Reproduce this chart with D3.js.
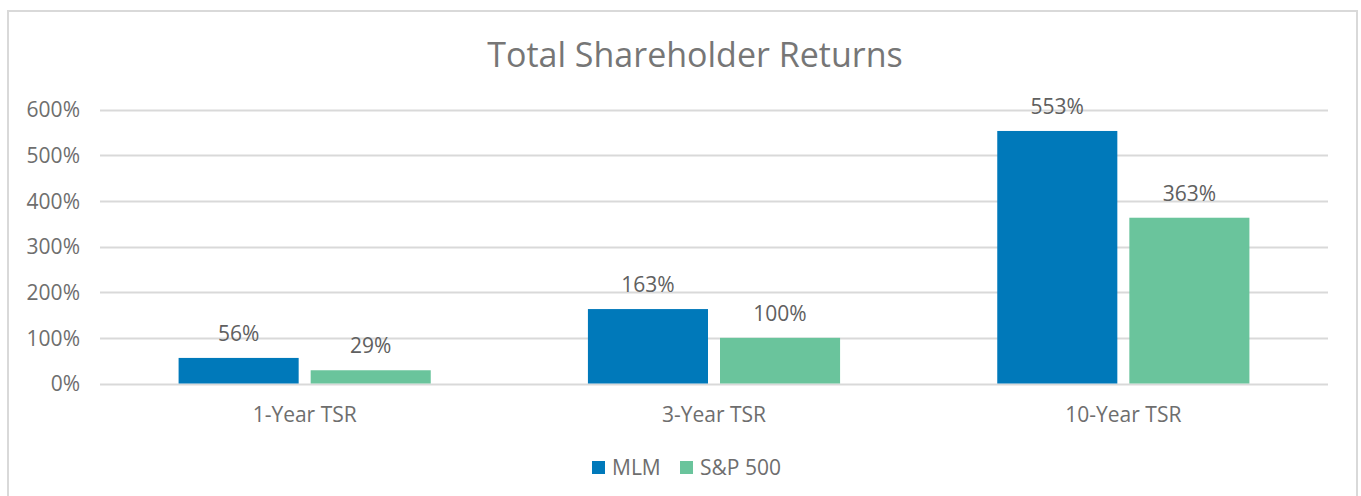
<!DOCTYPE html>
<html><head><meta charset="utf-8">
<script src="https://cdn.jsdelivr.net/npm/d3@7"></script>
<style>
html,body{margin:0;padding:0;background:#fff;}
svg{display:block;font-family:"Open Sans",sans-serif;}
</style></head>
<body><svg id="c" width="1361" height="496"></svg>
<script>
const categories = ["1-Year TSR", "3-Year TSR", "10-Year TSR"];
const seriesNames = ["MLM", "S&P 500"];
const mlmValues = [56, 163, 553];
const spValues = [29, 100, 363];
const yTicks = [0, 100, 200, 300, 400, 500, 600];
const colors = ["#0079BA", "#6AC49C"];
const title = "Total Shareholder Returns";

const svg = d3.select("#c");
const W = 1361, H = 496;
const m = {left: 100, right: 33};
const FS = 21;

// outer border
svg.append("rect").attr("x", 8).attr("y", 11).attr("width", 1349).attr("height", 500)
  .attr("fill", "none").attr("stroke", "#d9d9d9").attr("stroke-width", 2);

svg.append("text").attr("x", 695).attr("y", 67).attr("text-anchor", "middle")
  .attr("fill", "#767676").attr("font-size", 34).text(title);

const x0 = d3.scaleBand().domain(categories).range([m.left, W - m.right]).paddingInner(0).paddingOuter(0);
const x1 = d3.scaleBand().domain(seriesNames).range([0, x0.bandwidth()]).paddingInner(0.0909).paddingOuter(0.595);
const y = d3.scaleLinear().domain([0, 600]).range([383.5, 109.5]);

const grid = svg.append("g");
yTicks.forEach(t => {
  grid.append("line").attr("x1", m.left).attr("x2", W - m.right)
    .attr("y1", Math.round(y(t)) + 0.5).attr("y2", Math.round(y(t)) + 0.5)
    .attr("stroke", "#d9d9d9").attr("stroke-width", 2);
});

const yAxis = d3.axisLeft(y).tickValues(yTicks).tickFormat(d => d + "%").tickSize(0).tickPadding(0);
const ya = svg.append("g").attr("transform", "translate(80,0)").call(yAxis);
ya.select(".domain").remove();
ya.selectAll("text").attr("font-family", "Open Sans, sans-serif").attr("font-size", FS).attr("fill", "#6e6e6e").attr("dy", "0.35em");

const data = categories.map((c, i) => ({cat: c, vals: [mlmValues[i], spValues[i]]}));
const groups = svg.selectAll("g.cat").data(data).join("g").attr("class", "cat")
  .attr("transform", d => `translate(${x0(d.cat)},0)`);
groups.selectAll("rect").data(d => d.vals.map((v, j) => ({s: seriesNames[j], v, j})))
  .join("rect")
  .attr("x", d => x1(d.s)).attr("width", x1.bandwidth())
  .attr("y", d => y(d.v)).attr("height", d => y(0) - y(d.v))
  .attr("fill", d => colors[d.j]);
groups.selectAll("text.lbl").data(d => d.vals.map((v, j) => ({s: seriesNames[j], v, j})))
  .join("text").attr("class", "lbl")
  .attr("x", d => x1(d.s) + x1.bandwidth() / 2).attr("y", d => y(d.v) - 17)
  .attr("text-anchor", "middle").attr("font-size", FS).attr("fill", "#606060")
  .text(d => d.v + "%");

const xAxis = d3.axisBottom(x0).tickSize(0).tickPadding(0);
const xa = svg.append("g").attr("transform", "translate(0,422)").call(xAxis);
xa.select(".domain").remove();
xa.selectAll("text").attr("font-family", "Open Sans, sans-serif").attr("font-size", FS).attr("fill", "#6e6e6e").attr("dy", 0);

// legend
const leg = svg.append("g");
const legX = [592, 680];
seriesNames.forEach((s, i) => {
  leg.append("rect").attr("x", legX[i]).attr("y", 461).attr("width", 13).attr("height", 13).attr("fill", colors[i]);
  leg.append("text").attr("x", legX[i] + 20).attr("y", 475).attr("font-size", FS).attr("fill", "#6e6e6e").text(s);
});
</script></body></html>
